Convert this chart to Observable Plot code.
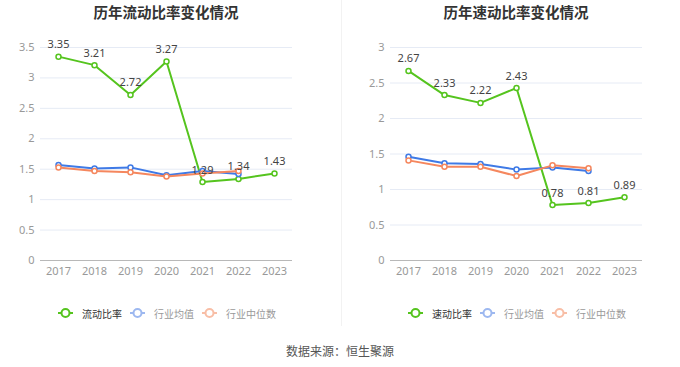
<!DOCTYPE html>
<html>
<head>
<meta charset="utf-8">
<script src="https://cdn.jsdelivr.net/npm/d3@7"></script>
<script src="https://cdn.jsdelivr.net/npm/@observablehq/plot@0.6"></script>
<style>
  body { margin: 0; background: #fff; font-family: "Noto Sans CJK SC", "Noto Sans", sans-serif; }
  #root { position: relative; width: 680px; height: 367px; overflow: hidden; }
  .title { position: absolute; top: 0; height: 24px; line-height: 24px; text-align: center; font-size: 14.5px; font-weight: bold; color: #333; }
  .chart { position: absolute; top: 25px; }
  .legend { position: absolute; top: 304px; height: 18px; display: flex; align-items: center; font-size: 10px; white-space: nowrap; }
  .legend .item { display: flex; align-items: center; margin-right: 8px; }
  .legend svg { margin-right: 9px; }
  .divider { position: absolute; left: 341px; top: 0; width: 1px; height: 326px; background: #f2f2f2; }
  .source { position: absolute; top: 342px; left: 0; width: 680px; text-align: center; font-size: 12px; color: #555; }
</style>
</head>
<body>
<div id="root"></div>
<script>
const years = ["2017", "2018", "2019", "2020", "2021", "2022", "2023"];
const currentRatio = [3.35, 3.21, 2.72, 3.27, 1.29, 1.34, 1.43];
const currentIndustryMean = [1.57, 1.51, 1.53, 1.40, 1.47, 1.42];
const currentIndustryMedian = [1.53, 1.47, 1.45, 1.38, 1.43, 1.47];
const quickRatio = [2.67, 2.33, 2.22, 2.43, 0.78, 0.81, 0.89];
const quickIndustryMean = [1.46, 1.37, 1.36, 1.28, 1.31, 1.26];
const quickIndustryMedian = [1.41, 1.32, 1.32, 1.19, 1.34, 1.30];
const leftTicks = [0, 0.5, 1, 1.5, 2, 2.5, 3, 3.5];
const rightTicks = [0, 0.5, 1, 1.5, 2, 2.5, 3];
const leftNames = ["流动比率", "行业均值", "行业中位数"];
const rightNames = ["速动比率", "行业均值", "行业中位数"];

const GREEN = "#55c41e", BLUE = "#3f7ae6", ORANGE = "#f5875e";
const root = document.getElementById("root");

function rows(vals) { return vals.map((v, i) => ({year: years[i], v})); }

function makeChart(opts) {
  const main = rows(opts.main), mean = rows(opts.mean), med = rows(opts.median);
  const series = [[mean, BLUE], [med, ORANGE]];
  const marks = [
    Plot.gridY(opts.ticks, {stroke: "#e6ebf5", strokeOpacity: 1}),
    Plot.ruleY([0], {stroke: "#b8b8b8"}),
    Plot.axisY(opts.ticks, {tickSize: 0, tickPadding: 6, tickFormat: d => String(d), fontSize: 11, fill: "#999", label: null}),
    Plot.axisX({tickSize: 0, tickPadding: 7, fontSize: 11, fill: "#999", label: null}),
    Plot.line(main, {x: "year", y: "v", stroke: GREEN, strokeWidth: 2}),
    Plot.dot(main, {x: "year", y: "v", r: 2.5, fill: "white", stroke: GREEN, strokeWidth: 1.5})
  ];
  for (const [d, c] of series) {
    marks.push(Plot.line(d, {x: "year", y: "v", stroke: c, strokeWidth: 2}));
    marks.push(Plot.dot(d, {x: "year", y: "v", r: 2.5, fill: "white", stroke: c, strokeWidth: 1.5}));
  }
  marks.push(Plot.text(main, {x: "year", y: "v", text: d => d.v.toFixed(2), dy: -12, fontSize: 11, fill: "#444"}));
  return Plot.plot({
    width: 340, height: 255,
    marginTop: 22, marginBottom: 20, marginLeft: opts.ml, marginRight: opts.mr,
    x: {type: "point", domain: years, padding: 0.5},
    y: {domain: opts.domain},
    style: {fontFamily: "'Noto Sans', 'Noto Sans CJK SC', sans-serif", background: "transparent", overflow: "visible"},
    marks
  });
}

function legendIcon(color) {
  return `<svg width="15" height="10" viewBox="0 0 15 10"><line x1="0" y1="5" x2="15" y2="5" stroke="${color}" stroke-width="2"/><circle cx="7.5" cy="5" r="4" fill="white" stroke="${color}" stroke-width="2"/></svg>`;
}

function addPanel(x, title, chartOpts, names, legendLeft) {
  const t = document.createElement("div");
  t.className = "title";
  t.style.left = (x + chartOpts.ml) + "px";
  t.style.width = (340 - chartOpts.ml - chartOpts.mr) + "px";
  t.textContent = title;
  root.appendChild(t);
  const c = document.createElement("div");
  c.className = "chart";
  c.style.left = x + "px";
  c.appendChild(makeChart(chartOpts));
  root.appendChild(c);
  const lg = document.createElement("div");
  lg.className = "legend";
  lg.style.left = legendLeft + "px";
  const cols = [[GREEN, "#333"], ["#9db8f0", "#999"], ["#f8bea6", "#999"]];
  lg.innerHTML = names.map((n, i) => `<div class="item">${legendIcon(cols[i][0])}<span style="color:${cols[i][1]}">${n}</span></div>`).join("");
  root.appendChild(lg);
}

addPanel(0, "历年流动比率变化情况", {main: currentRatio, mean: currentIndustryMean, median: currentIndustryMedian, ticks: leftTicks, domain: [0, 3.5], ml: 40, mr: 48}, leftNames, 58);
addPanel(340, "历年速动比率变化情况", {main: quickRatio, mean: quickIndustryMean, median: quickIndustryMedian, ticks: rightTicks, domain: [0, 3], ml: 50, mr: 38}, rightNames, 408);

const dv = document.createElement("div"); dv.className = "divider"; root.appendChild(dv);
const src = document.createElement("div"); src.className = "source"; src.textContent = "数据来源：恒生聚源"; root.appendChild(src);
</script>
</body>
</html>
